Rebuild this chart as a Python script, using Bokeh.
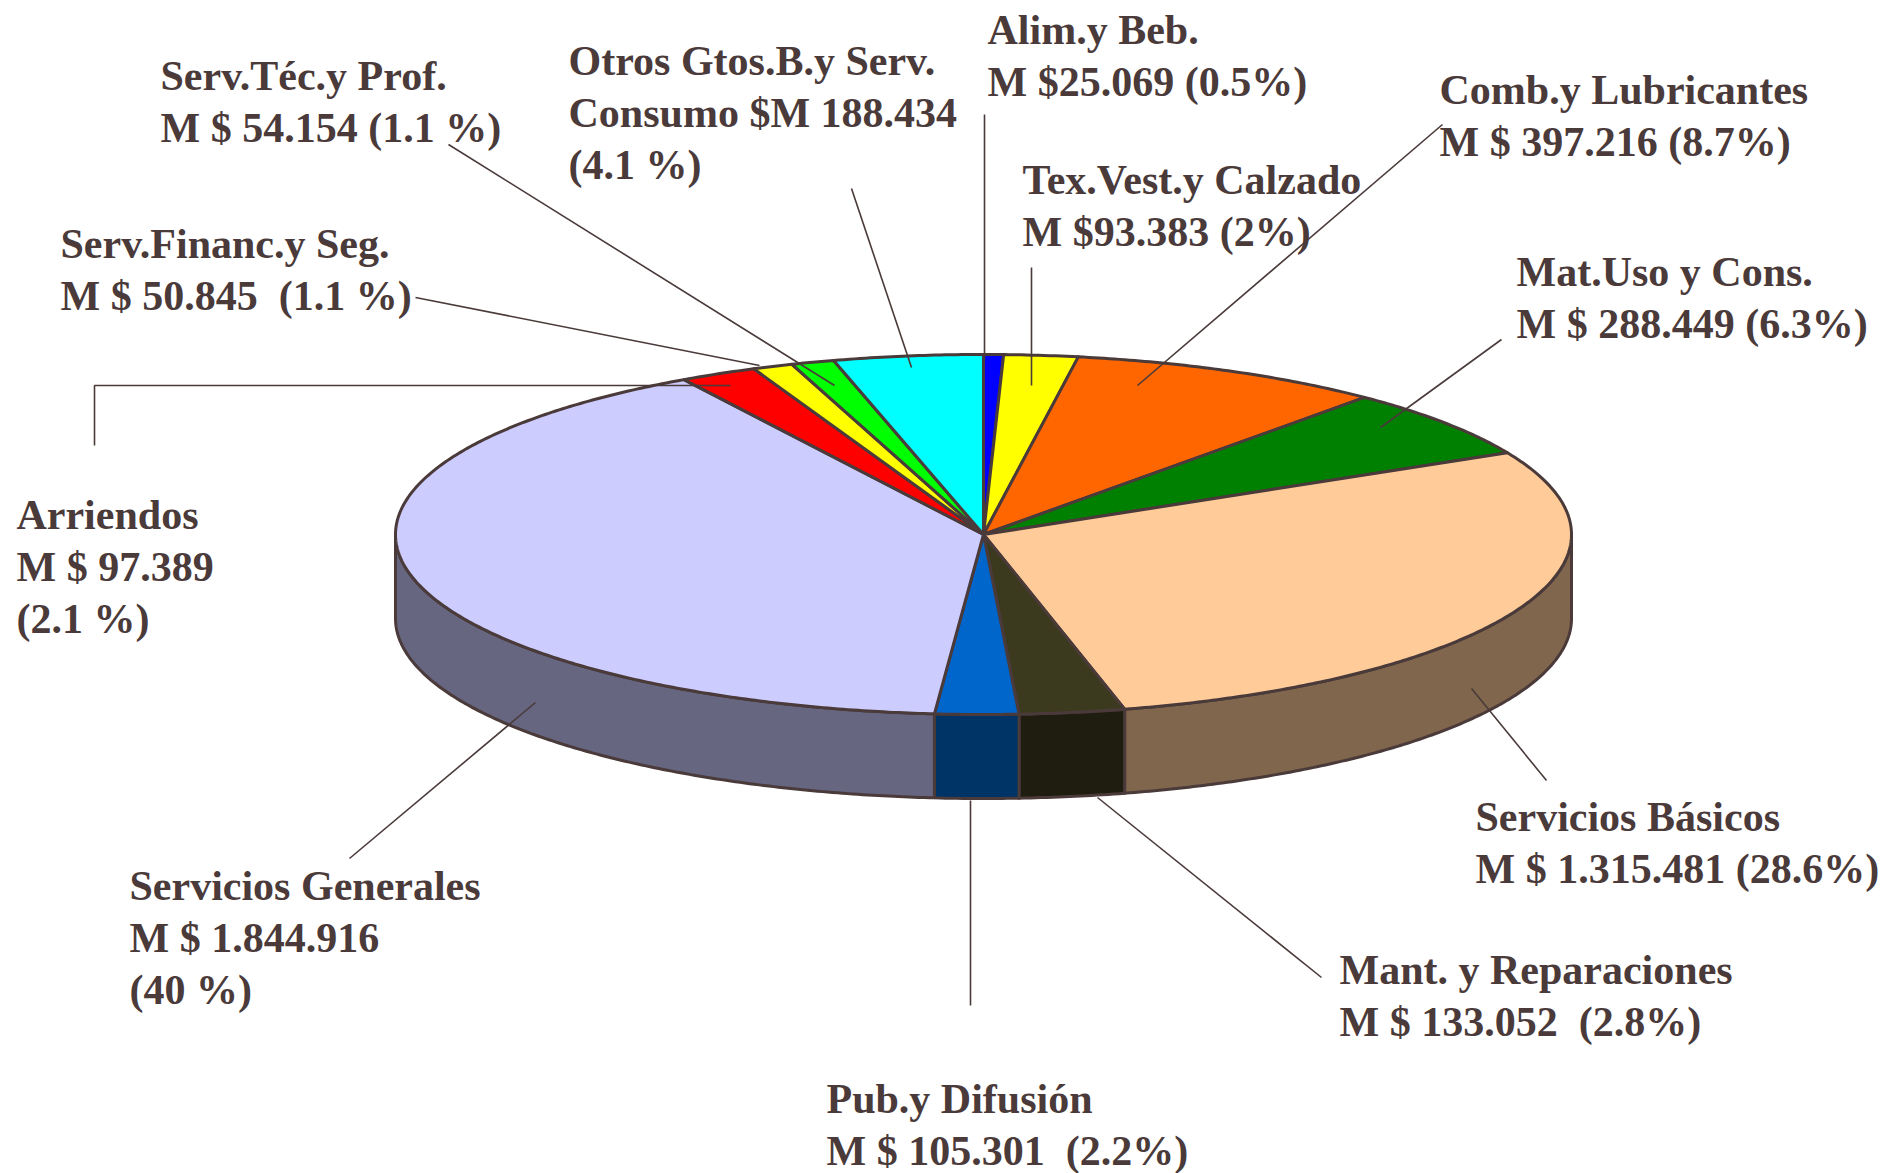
import numpy as np
from bokeh.plotting import figure
from bokeh.models import Range1d
from bokeh.embed import file_html
from bokeh.resources import INLINE
from bokeh.core.properties import value

# ---------------- data ----------------
categories = ["Alim.y Beb.", "Tex.Vest.y Calzado", "Comb.y Lubricantes", "Mat.Uso y Cons.",
              "Servicios Básicos", "Mant. y Reparaciones", "Pub.y Difusión", "Servicios Generales",
              "Arriendos", "Serv.Financ.y Seg.", "Serv.Téc.y Prof.", "Otros Gtos.B.y Serv."]
amounts = [25.069, 93.383, 397.216, 288.449, 1315.481, 133.052, 105.301, 1844.916,
           97.389, 50.845, 54.154, 188.434]
top_colors = ["#0000FF", "#FFFF00", "#FF6600", "#008000", "#FFCC99", "#3C3A1E",
              "#0066CC", "#CCCCFF", "#FF0000", "#FFFF00", "#00FF00", "#00FFFF"]
side_colors = ["#000080", "#808000", "#803300", "#004000", "#80664C", "#1E1D0F",
               "#003366", "#666680", "#800000", "#808000", "#008000", "#008080"]
NB = "\u00a0"
label_lines = [
    ["Alim.y Beb.", "M $25.069 (0.5%)"],
    ["Tex.Vest.y Calzado", "M $93.383 (2%)"],
    ["Comb.y Lubricantes", "M $ 397.216 (8.7%)"],
    ["Mat.Uso y Cons.", "M $ 288.449 (6.3%)"],
    ["Servicios Básicos", "M $ 1.315.481 (28.6%)"],
    ["Mant. y Reparaciones", "M $ 133.052 " + NB + "(2.8%)"],
    ["Pub.y Difusión", "M $ 105.301 " + NB + "(2.2%)"],
    ["Servicios Generales", "M $ 1.844.916", "(40 %)"],
    ["Arriendos", "M $ 97.389", "(2.1 %)"],
    ["Serv.Financ.y Seg.", "M $ 50.845 " + NB + "(1.1 %)"],
    ["Serv.Téc.y Prof.", "M $ 54.154 (1.1 %)"],
    ["Otros Gtos.B.y Serv.", "Consumo $M 188.434", "(4.1 %)"],
]

# ---------------- layout ----------------
W, H = 1887, 1173
CX, CY, RX, RY, DEPTH = 983, 534, 588, 180, 84
LINE_STEP = 52
label_anchor = [(987, 29), (1022, 179), (1439, 89), (1516, 271), (1475, 816), (1339, 969),
                (826, 1098), (129, 885), (16, 514), (60, 243), (160, 75), (568, 60)]
leaders = [
    [(984, 114), (984, 360)],
    [(1031, 267), (1031, 385)],
    [(1442, 124), (1137, 385)],
    [(1501, 339), (1380, 427)],
    [(1471, 688), (1546, 780)],
    [(1097, 797), (1321, 977)],
    [(970, 800), (970, 1005)],
    [(535, 702), (349, 858)],
    [(730, 385), (94, 385), (94, 445)],
    [(415, 297), (759, 365)],
    [(448, 144), (834, 385)],
    [(851, 188), (911, 367)],
]
TXT = "#4A3A3A"
EDGE = "#4A3A3A"

p = figure(width=W, height=H, x_range=Range1d(0, W), y_range=Range1d(H, 0),
           output_backend="svg", toolbar_location=None, min_border=0,
           x_axis_type=None, y_axis_type=None)
p.grid.visible = False
p.outline_line_color = None
p.background_fill_color = "white"
p.border_fill_color = "white"

total = float(sum(amounts))
bounds = np.concatenate([[0.0], np.cumsum(amounts) / total * 360.0])


def pt(theta_deg, dy=0.0):
    t = np.radians(theta_deg)
    return CX + RX * np.sin(t), CY - RY * np.cos(t) + dy


# sides (front half: 90..270 degrees clockwise from top)
sx, sy, sc = [], [], []
for i in range(len(amounts)):
    a0, a1 = bounds[i], bounds[i + 1]
    s0, s1 = max(a0, 90.0), min(a1, 270.0)
    if s1 <= s0:
        continue
    th = np.linspace(s0, s1, max(int((s1 - s0) * 2), 4))
    xt, yt = pt(th)
    xb, yb = pt(th[::-1], DEPTH)
    sx.append(list(np.concatenate([xt, xb])))
    sy.append(list(np.concatenate([yt, yb])))
    sc.append(side_colors[i])
p.patches(xs=sx, ys=sy, fill_color=sc, line_color=EDGE, line_width=3, line_join="round")

# tops
tx, ty = [], []
for i in range(len(amounts)):
    a0, a1 = bounds[i], bounds[i + 1]
    th = np.linspace(a0, a1, max(int((a1 - a0) * 2), 3))
    xa, ya = pt(th)
    tx.append([CX] + list(xa))
    ty.append([CY] + list(ya))
p.patches(xs=tx, ys=ty, fill_color=top_colors, line_color=EDGE, line_width=3, line_join="round")

# leader lines
p.multi_line(xs=[[q[0] for q in L] for L in leaders], ys=[[q[1] for q in L] for L in leaders],
             line_color=EDGE, line_width=1.6)

# labels
lx, ly, lt = [], [], []
for (ax, ay), lines in zip(label_anchor, label_lines):
    for k, s in enumerate(lines):
        lx.append(ax)
        ly.append(ay + k * LINE_STEP)
        lt.append(s)
p.text(x=lx, y=ly, text=lt, text_font=value("Liberation Serif"), text_font_style="bold",
       text_font_size="42px", text_color=TXT, text_baseline="middle", text_align="left")

open("out.html", "w").write(file_html(p, INLINE))
